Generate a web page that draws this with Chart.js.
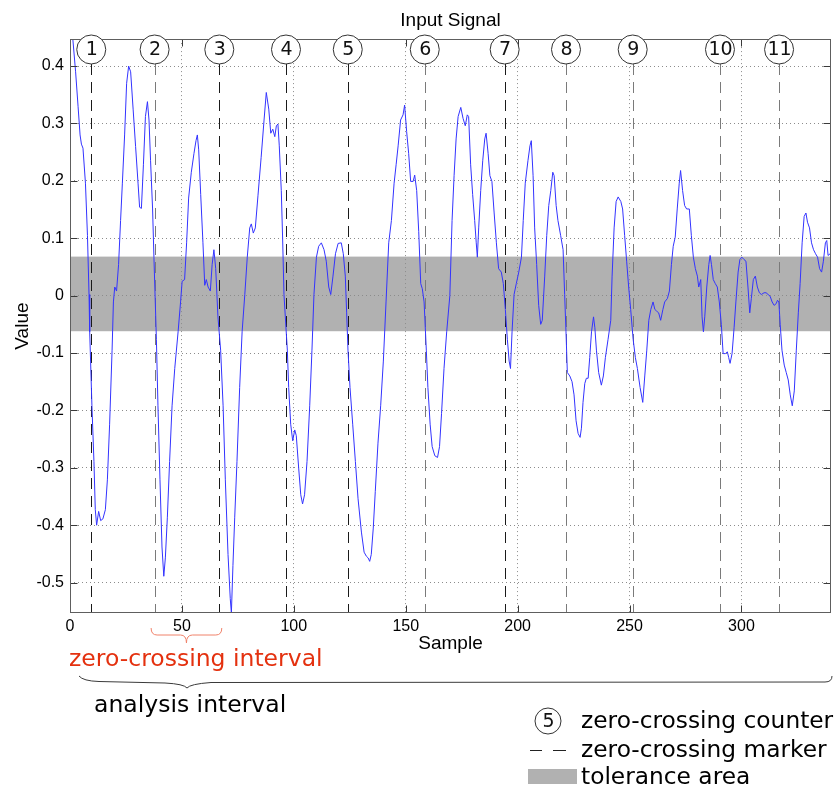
<!DOCTYPE html>
<html><head><meta charset="utf-8">
<script src="https://cdn.jsdelivr.net/npm/chart.js@4.4.1/dist/chart.umd.min.js"></script>
<style>
html,body{margin:0;padding:0;background:#fff;}
#wrap{position:relative;width:838px;height:790px;overflow:hidden;}
canvas{position:absolute;left:0;top:0;}
.ann{position:absolute;font-family:"DejaVu Sans",sans-serif;white-space:nowrap;line-height:1;}
</style></head><body>
<div id="wrap">
<canvas id="c" width="838" height="790"></canvas>
<div class="ann" style="left:69px;top:647px;font-size:23.5px;color:#e4310f">zero-crossing interval</div>
<div class="ann" style="left:94px;top:693px;font-size:23.5px;color:#000">analysis interval</div>
<div class="ann" style="left:581px;top:708px;font-size:23.3px;color:#000">zero-crossing counter</div>
<div class="ann" style="left:581px;top:737px;font-size:23.3px;color:#000">zero-crossing marker</div>
<div class="ann" style="left:581px;top:764px;font-size:23.3px;color:#000">tolerance area</div>
</div>
<script>
// ---- data ----
const sampleIdx = [0,1.2,2.5,3.6,4.5,5.1,5.8,6.9,7.8,8.5,8.8,9.2,9.8,10.7,11.3,11.9,12.8,13.7,14.7,15.8,16.7,17.7,18.8,19.4,20.0,20.8,21.7,22.6,23.4,24.4,25.3,26.2,27.1,28.2,29.3,30.4,31.1,31.9,32.8,33.7,34.6,35.3,36.0,36.9,37.5,38.1,38.6,39.3,40.2,41.1,41.9,42.6,43.5,44.5,45.6,46.8,48.3,49.4,50.1,51.2,52.1,53.0,54.2,55.4,56.3,56.9,57.5,58.4,59.4,60.2,60.9,61.7,62.7,63.5,64.3,65.1,66.1,67.3,68.4,69.4,70.6,71.6,72.1,72.8,73.6,74.6,75.8,76.9,78.1,79.2,80.3,81.0,81.9,82.8,84.0,85.4,86.7,87.7,88.8,89.7,90.6,91.5,92.2,92.9,93.5,94.4,95.0,95.6,96.2,97.1,97.7,98.6,99.5,100.4,101.1,102.2,103.1,103.9,104.8,105.9,107.1,108.1,109.0,110.1,111.1,112.3,113.5,114.5,115.6,116.5,117.5,118.6,119.8,121.2,122.1,123.0,123.6,124.2,125.1,126.3,127.5,128.7,130.2,131.4,132.4,133.2,133.9,134.6,135.5,136.4,137.6,138.8,140.0,141.2,142.4,143.6,144.8,145.7,146.6,147.7,148.8,149.5,150.4,151.3,152.2,153.3,154.0,154.9,155.8,156.7,157.4,158.2,159.2,159.9,160.9,161.8,163.0,164.2,165.1,166.0,167.1,168.3,169.7,170.7,171.6,172.5,173.4,174.6,175.6,176.6,177.5,178.1,179.0,179.9,180.8,181.5,182.0,182.6,183.5,184.4,185.3,185.9,186.8,187.6,188.5,189.5,190.5,191.5,192.7,193.6,194.5,195.4,196.2,196.8,197.5,198.4,199.4,200.5,201.7,202.5,203.4,204.6,205.5,206.1,206.9,207.6,208.5,209.4,210.3,211.0,212.1,213.0,213.9,214.8,215.7,216.3,217.2,218.0,219.2,220.3,221.0,221.6,222.2,223.3,224.3,225.2,226.1,227.0,227.9,228.5,229.2,230.0,230.7,231.5,232.2,233.0,233.9,234.5,235.2,236.2,237.4,238.3,239.2,240.4,241.6,242.2,243.1,244.0,244.9,246.1,246.9,247.8,248.7,249.6,250.5,251.6,252.6,253.5,254.7,255.9,256.8,257.7,258.6,259.5,260.5,261.3,262.1,263.0,263.9,264.9,265.7,266.9,267.8,268.7,269.5,270.4,271.3,272.2,272.8,273.7,274.6,275.5,276.7,277.6,278.5,279.4,280.3,280.9,281.8,282.4,283.0,283.6,284.5,285.4,286.0,286.6,287.4,288.3,289.2,290.1,291.0,291.8,292.8,293.7,294.3,294.9,295.8,296.7,297.5,298.5,299.3,300.2,301.1,302.0,302.9,303.7,304.4,305.3,306.2,307.1,308.0,308.9,310.1,311.0,311.9,312.8,313.7,314.6,315.5,316.1,316.7,317.3,318.1,319.1,320.0,320.9,321.8,322.7,323.6,324.5,325.4,326.2,327.1,328.0,328.8,329.5,330.4,331.3,332.2,333.1,334.0,334.9,335.8,336.6,337.5,338.1,338.7,339.6,340];
const signal = [0.45,0.45,0.39,0.33,0.28,0.264,0.257,0.196,0.105,0.002,-0.063,-0.114,-0.192,-0.289,-0.373,-0.4,-0.376,-0.392,-0.389,-0.373,-0.321,-0.224,-0.095,-0.011,0.015,0.008,0.054,0.131,0.196,0.28,0.37,0.4,0.39,0.325,0.26,0.196,0.154,0.152,0.228,0.312,0.338,0.306,0.235,0.151,0.067,-0.011,-0.076,-0.192,-0.321,-0.438,-0.489,-0.457,-0.386,-0.289,-0.192,-0.127,-0.063,-0.011,0.025,0.028,0.092,0.17,0.215,0.248,0.27,0.28,0.254,0.176,0.092,0.018,0.028,0.015,0.008,0.054,0.08,0.047,-0.037,-0.095,-0.192,-0.321,-0.451,-0.528,-0.553,-0.47,-0.386,-0.289,-0.16,-0.063,0.002,0.067,0.118,0.125,0.109,0.118,0.175,0.241,0.306,0.354,0.325,0.283,0.29,0.277,0.296,0.299,0.261,0.183,0.099,0.002,-0.037,-0.095,-0.16,-0.224,-0.253,-0.234,-0.244,-0.302,-0.347,-0.363,-0.347,-0.289,-0.192,-0.095,0.002,0.067,0.086,0.092,0.08,0.06,0.015,0.002,0.034,0.073,0.091,0.092,0.073,0.034,-0.03,-0.095,-0.16,-0.224,-0.289,-0.354,-0.412,-0.447,-0.454,-0.457,-0.463,-0.451,-0.405,-0.341,-0.257,-0.192,-0.114,-0.011,0.092,0.131,0.196,0.228,0.261,0.306,0.315,0.332,0.286,0.248,0.199,0.199,0.21,0.183,0.112,0.021,0.012,-0.011,-0.095,-0.16,-0.224,-0.263,-0.279,-0.282,-0.263,-0.205,-0.127,-0.063,0.0,0.131,0.209,0.273,0.312,0.328,0.309,0.296,0.315,0.312,0.228,0.176,0.131,0.092,0.067,0.118,0.183,0.235,0.273,0.283,0.248,0.209,0.199,0.144,0.092,0.047,0.041,0.021,-0.024,-0.076,-0.114,-0.127,-0.063,0.002,0.021,0.041,0.067,0.131,0.196,0.235,0.261,0.27,0.209,0.118,0.054,-0.017,-0.05,-0.043,0.034,0.105,0.157,0.183,0.215,0.209,0.157,0.131,0.105,0.08,0.002,-0.063,-0.134,-0.14,-0.15,-0.173,-0.218,-0.24,-0.247,-0.231,-0.186,-0.153,-0.144,-0.144,-0.108,-0.063,-0.037,-0.056,-0.095,-0.134,-0.156,-0.14,-0.108,-0.076,-0.043,0.034,0.118,0.164,0.172,0.164,0.151,0.105,0.06,0.015,-0.024,-0.076,-0.108,-0.127,-0.16,-0.186,-0.14,-0.095,-0.043,-0.024,-0.011,-0.024,-0.027,-0.03,-0.043,-0.024,-0.011,-0.005,0.008,0.054,0.086,0.102,0.151,0.196,0.218,0.183,0.157,0.151,0.151,0.105,0.067,0.047,0.034,0.015,0.028,-0.037,-0.063,-0.037,0.015,0.054,0.07,0.054,0.028,0.021,0.015,-0.011,-0.05,-0.101,-0.101,-0.098,-0.108,-0.118,-0.101,-0.056,-0.011,0.041,0.063,0.067,0.063,0.06,0.015,-0.03,-0.005,0.028,0.034,0.015,0.005,0.002,0.005,0.005,0.002,-0.001,-0.011,-0.017,-0.014,-0.008,-0.011,-0.05,-0.095,-0.121,-0.134,-0.147,-0.173,-0.192,-0.166,-0.095,-0.03,0.021,0.092,0.138,0.144,0.128,0.118,0.092,0.08,0.073,0.067,0.047,0.041,0.06,0.092,0.096,0.07,0.073,0.072];
const zeroCrossings = [9.5,37.8,66.7,96.5,124.1,158.5,194.2,221.6,251.4,290.4,316.8];
const counterLabels = ['1','2','3','4','5','6','7','8','9','10','11'];
const tolerance = [-0.062, 0.068];
const xTickValues = [0,50,100,150,200,250,300];
const yTickValues = [-0.5,-0.4,-0.3,-0.2,-0.1,0,0.1,0.2,0.3,0.4];
const xRange = [0, 340];
const yRange = [-0.553, 0.447];

// ---- styles ----
const FONT = '"Liberation Sans", Arial, Helvetica, sans-serif';
const DJV = '"DejaVu Sans", sans-serif';
const markerColors = ['#1a1a1a','#7a7a7a','#1a1a1a','#1a1a1a','#1a1a1a','#7a7a7a','#1a1a1a','#7a7a7a','#7a7a7a','#7a7a7a','#7a7a7a'];

function brace(ctx, pts) {
  ctx.beginPath();
  ctx.moveTo(pts[0][0], pts[0][1]);
  for (let i = 1; i < pts.length; i++) {
    const p = pts[i];
    if (p.length === 4) ctx.quadraticCurveTo(p[0], p[1], p[2], p[3]);
    else ctx.lineTo(p[0], p[1]);
  }
  ctx.stroke();
}

const decor = {
  id: 'decor',
  beforeDraw(chart) {
    const {ctx, chartArea: ca, scales: {y}} = chart;
    const t = y.getPixelForValue(tolerance[1]);
    const b = y.getPixelForValue(tolerance[0]);
    ctx.save();
    ctx.fillStyle = '#b1b1b1';
    ctx.fillRect(ca.left, t, ca.right - ca.left, b - t);
    ctx.restore();
  },
  beforeDatasetsDraw(chart) {
    const {ctx, chartArea: ca, scales: {x}} = chart;
    ctx.save();
    ctx.lineWidth = 1;
    ctx.setLineDash([11, 7]);
    zeroCrossings.forEach((v, i) => {
      const px = Math.round(x.getPixelForValue(v)) + 0.5;
      ctx.strokeStyle = markerColors[i];
      ctx.beginPath();
      ctx.moveTo(px, 64);
      ctx.lineTo(px, ca.bottom);
      ctx.stroke();
    });
    ctx.restore();
  },
  afterDraw(chart) {
    const {ctx, chartArea: ca, scales: {x, y}} = chart;
    const L = Math.round(ca.left) + 0.5, R = Math.round(ca.right) - 0.5;
    const T = Math.round(ca.top) + 0.5, B = Math.round(ca.bottom) - 0.5;
    ctx.save();
    // inward tick marks
    ctx.strokeStyle = '#3a3a3a';
    ctx.lineWidth = 1;
    ctx.beginPath();
    yTickValues.forEach(v => {
      const py = Math.round(y.getPixelForValue(v)) + 0.5;
      ctx.moveTo(L, py); ctx.lineTo(L + 7, py);
      ctx.moveTo(R, py); ctx.lineTo(R - 7, py);
    });
    xTickValues.forEach(v => {
      const px = Math.round(x.getPixelForValue(v)) + 0.5;
      ctx.moveTo(px, B); ctx.lineTo(px, B - 7);
      ctx.moveTo(px, T); ctx.lineTo(px, T + 7);
    });
    ctx.stroke();
    // frame
    ctx.strokeStyle = '#5e5e5e';
    ctx.strokeRect(L, T, R - L, B - T);
    // counter circles
    ctx.font = '19px ' + DJV;
    ctx.textAlign = 'center';
    ctx.textBaseline = 'middle';
    zeroCrossings.forEach((v, i) => {
      const px = x.getPixelForValue(v);
      ctx.beginPath();
      ctx.arc(px, 49.5, 14.5, 0, Math.PI * 2);
      ctx.fillStyle = '#fff';
      ctx.fill();
      ctx.strokeStyle = '#333';
      ctx.stroke();
      ctx.fillStyle = '#111';
      ctx.fillText(counterLabels[i], px + 0.5, 50.5);
    });
    // zero-crossing interval brace (between crossings 2 and 3)
    const a0 = x.getPixelForValue(zeroCrossings[1]) - 3.5;
    const a1 = x.getPixelForValue(zeroCrossings[2]) + 2.5;
    const am = (a0 + a1) / 2;
    ctx.strokeStyle = '#f0826a';
    brace(ctx, [[a0, 628], [a0, 635, a0 + 6, 635], [am - 6, 635], [am, 635, am, 643], [am, 635, am + 6, 635], [a1 - 6, 635], [a1, 635, a1, 628]]);
    // analysis interval brace
    const b0 = ca.left + 9, b1 = ca.right + 1, bm = 187;
    ctx.strokeStyle = '#3a3a3a';
    brace(ctx, [[b0, 676], [b0 + 4, 681, b0 + 20, 681.5], [bm - 22, 683], [bm - 3, 684, bm, 688], [bm + 3, 684, bm + 24, 682.5], [b1 - 7, 682], [b1, 682, b1, 676]]);
    // legend symbols
    ctx.beginPath();
    ctx.arc(548, 721, 13, 0, Math.PI * 2);
    ctx.strokeStyle = '#333';
    ctx.stroke();
    ctx.font = '19px ' + DJV;
    ctx.fillStyle = '#111';
    ctx.fillText('5', 548.5, 722);
    ctx.strokeStyle = '#222';
    ctx.beginPath();
    ctx.moveTo(530, 750.5); ctx.lineTo(542, 750.5);
    ctx.moveTo(553, 750.5); ctx.lineTo(566, 750.5);
    ctx.stroke();
    ctx.fillStyle = '#b1b1b1';
    ctx.fillRect(528, 769, 49, 15);
    ctx.restore();
  }
};

new Chart(document.getElementById('c'), {
  type: 'line',
  data: {
    datasets: [{
      data: sampleIdx.map((s, i) => ({x: s, y: signal[i]})),
      borderColor: '#3333ff',
      borderWidth: 1,
      pointRadius: 0,
      tension: 0,
      fill: false
    }]
  },
  options: {
    responsive: false,
    animation: false,
    devicePixelRatio: 1,
    layout: {padding: {left: 0, right: 7, top: 0, bottom: 0}},
    plugins: {
      legend: {display: false},
      tooltip: {enabled: false},
      title: {
        display: true, text: 'Input Signal', fullSize: false, color: '#000',
        font: {family: FONT, size: 19, weight: 'normal', lineHeight: 1.2},
        padding: {top: 9, bottom: 7.3}
      }
    },
    scales: {
      x: {
        type: 'linear', min: xRange[0], max: xRange[1],
        afterBuildTicks: s => { s.ticks = xTickValues.map(v => ({value: v})); },
        afterFit: s => { s.height = 177; },
        grid: {color: '#8c8c8c', lineWidth: 1, drawTicks: false},
        border: {display: false, dash: [1, 3]},
        ticks: {padding: 4, color: '#000', font: {family: FONT, size: 16}, maxRotation: 0, autoSkip: false, callback: v => String(v)},
        title: {display: true, text: 'Sample', color: '#000', font: {family: FONT, size: 19, lineHeight: 1.2}, padding: {top: 0, bottom: 135}}
      },
      y: {
        type: 'linear', min: yRange[0], max: yRange[1],
        afterBuildTicks: s => { s.ticks = yTickValues.map(v => ({value: v})); },
        afterFit: s => { s.width = 70; },
        grid: {color: '#8c8c8c', lineWidth: 1, drawTicks: false},
        border: {display: false, dash: [1, 3]},
        ticks: {padding: 6, color: '#000', font: {family: FONT, size: 16}, autoSkip: false, callback: v => (v === 0 ? '0' : v.toFixed(1))},
        title: {display: true, text: 'Value', color: '#000', font: {family: FONT, size: 19, lineHeight: 1.2}, padding: {top: 11, bottom: 0}}
      }
    }
  },
  plugins: [decor]
});
</script>
</body></html>
